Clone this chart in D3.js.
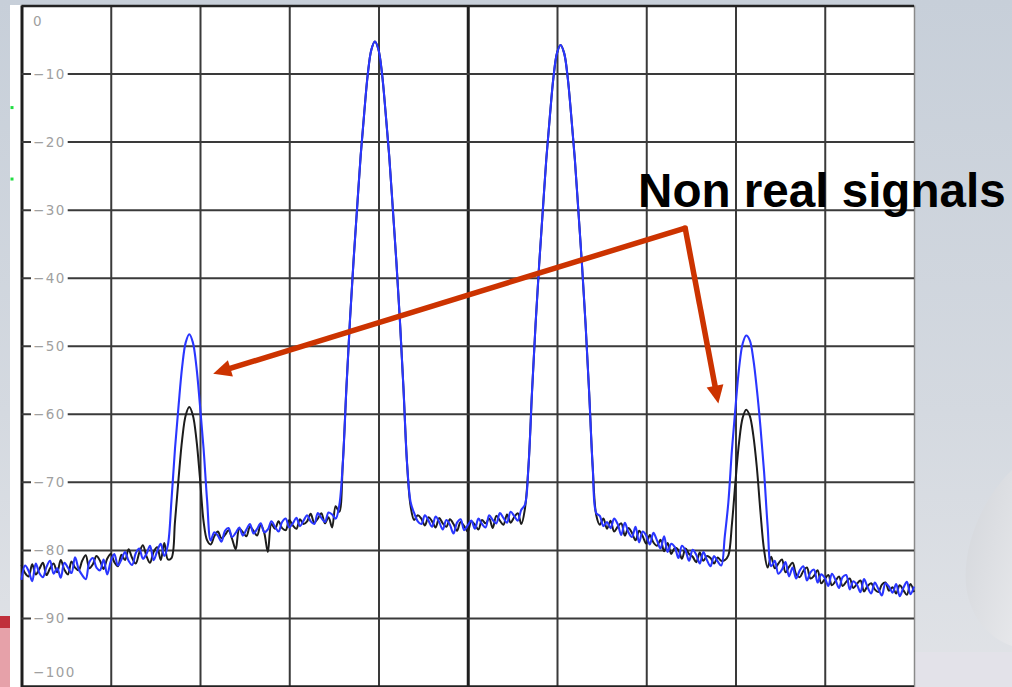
<!DOCTYPE html>
<html>
<head>
<meta charset="utf-8">
<script src="https://cdn.jsdelivr.net/npm/d3@7"></script>
<style>
  html, body { margin: 0; padding: 0; overflow: hidden; background: #cfd5dd; }
  svg { display: block; }
</style>
</head>
<body>
<svg id="chart" width="1012" height="687"></svg>
<script>
// Spectrum analyser sweep: two-tone test with third-order products.
// Frequency axis in sweep bins (250 bins across 10 divisions), level in dB.
const bins = d3.range(-125, 126);

// Trace with the higher drive (blue) — one value per bin, dB.
const blueTrace = [
  -84.4, -82.3, -83.1, -84.6, -82.0, -83.4, -84.0, -82.5, -81.6, -83.5,
  -82.7, -84.1, -81.9, -82.6, -83.4, -81.1, -82.8, -83.7, -84.3, -81.8,
  -81.2, -82.6, -83.0, -81.4, -83.6, -81.7, -80.6, -82.3, -81.4, -80.3,
  -81.6, -82.2, -80.5, -79.8, -81.3, -80.6, -79.4, -81.5, -80.2, -79.1,
  -80.9, -79.3, -72.8, -65.1, -58.8, -53.1, -49.5, -48.3, -49.5, -53.1,
  -58.8, -65.1, -72.8, -78.6, -77.4, -77.9, -78.8, -77.2, -76.8, -78.1,
  -77.5, -76.7, -77.9, -77.0, -76.2, -77.6, -76.9, -76.1, -77.4, -77.0,
  -75.8, -76.6, -77.3, -75.9, -75.4, -76.7, -76.1, -75.3, -76.5, -75.7,
  -74.9, -75.8, -76.2, -74.6, -75.3, -75.9, -74.5, -74.8, -75.4, -73.5,
  -67.3, -56.3, -46.3, -37.6, -29.8, -22.1, -15.8, -10.1, -6.5, -5.3,
  -6.5, -10.1, -15.8, -22.1, -29.8, -37.6, -46.3, -56.3, -67.3, -73.0,
  -74.6, -75.8, -76.2, -74.9, -75.7, -76.6, -75.1, -75.9, -77.0, -75.6,
  -76.3, -77.6, -76.0, -75.5, -77.1, -76.4, -75.7, -76.9, -75.4, -76.2,
  -76.7, -74.9, -75.6, -76.1, -74.6, -75.3, -76.0, -74.4, -75.0, -75.7,
  -74.1, -73.4, -67.8, -56.8, -46.8, -38.1, -30.3, -22.6, -16.3, -10.6,
  -7.0, -5.8, -7.0, -10.6, -16.3, -22.6, -30.3, -38.1, -46.8, -56.8,
  -67.8, -74.6, -75.0, -76.5, -75.9, -76.8, -75.4, -76.2, -77.8, -76.0,
  -77.4, -78.1, -76.6, -78.9, -77.3, -77.9, -79.2, -77.5, -78.6, -79.8,
  -78.0, -80.3, -79.1, -79.6, -81.2, -79.4, -80.1, -81.6, -80.0, -80.7,
  -82.0, -80.3, -81.5, -82.4, -80.9, -81.7, -82.3, -78.0, -73.0, -65.3,
  -59.0, -53.3, -49.7, -48.5, -49.2, -52.0, -56.5, -62.0, -68.5, -76.5,
  -82.4, -81.6, -83.5, -82.9, -81.8, -83.9, -82.6, -84.2, -83.0, -82.4,
  -84.5, -83.3, -82.9, -84.8, -83.6, -84.1, -85.3, -83.5, -84.4, -85.6,
  -84.0, -83.7, -85.8, -84.6, -85.1, -86.2, -84.3, -85.5, -86.4, -84.8,
  -85.7, -86.7, -84.9, -85.4, -86.3, -85.0, -86.8, -85.6, -84.7, -86.5,
  -85.4
];

// Trace with the lower drive (black) — one value per bin, dB.
const blackTrace = [
  -82.2, -83.4, -83.9, -82.1, -83.6, -82.8, -81.9, -83.7, -82.7, -82.0,
  -83.3, -81.5, -82.9, -83.6, -81.7, -82.6, -83.0, -81.6, -80.8, -82.7,
  -82.1, -80.9, -81.6, -82.8, -81.3, -80.6, -81.8, -82.4, -80.7, -81.5,
  -79.9, -81.2, -82.0, -80.4, -79.3, -80.9, -81.9, -80.3, -79.6, -81.5,
  -79.0, -81.4, -81.2, -75.8, -69.5, -63.8, -60.2, -59.0, -60.2, -63.8,
  -69.5, -75.8, -78.6, -79.2, -78.0, -77.3, -78.3, -77.8, -77.1, -78.4,
  -79.9, -76.9, -77.4, -78.0, -76.6, -77.2, -77.9, -76.3, -77.5, -80.3,
  -76.2, -76.9, -75.8, -76.8, -77.1, -75.6, -76.4, -76.9, -75.5, -76.2,
  -75.8, -74.7, -76.0, -75.4, -74.6, -76.1, -75.2, -76.7, -73.6, -74.4,
  -67.3, -56.3, -46.3, -37.6, -29.8, -22.1, -15.8, -10.1, -6.5, -5.3,
  -6.5, -10.1, -15.8, -22.1, -29.8, -37.6, -46.3, -56.3, -67.3, -73.6,
  -75.6, -74.9, -75.4, -76.4, -75.2, -75.8, -76.7, -75.3, -76.1, -76.6,
  -75.5, -76.2, -77.2, -75.9, -76.5, -77.3, -75.8, -76.3, -77.0, -75.6,
  -76.1, -75.4, -76.8, -75.0, -75.7, -76.3, -74.8, -76.0, -75.2, -74.6,
  -76.2, -74.0, -67.8, -56.8, -46.8, -38.1, -30.3, -22.6, -16.3, -10.6,
  -7.0, -5.8, -7.0, -10.6, -16.3, -22.6, -30.3, -38.1, -46.8, -56.8,
  -67.8, -74.9, -76.3, -75.4, -76.9, -75.7, -77.3, -76.6, -76.1, -77.9,
  -76.8, -77.5, -78.6, -77.2, -78.0, -79.1, -77.8, -78.9, -79.4, -78.5,
  -80.2, -79.0, -80.6, -79.7, -80.0, -81.3, -79.8, -80.6, -81.0, -81.8,
  -80.4, -81.6, -80.9, -81.2, -82.0, -81.1, -81.6, -81.5, -80.8, -76.2,
  -69.9, -64.2, -60.6, -59.4, -60.3, -63.2, -68.0, -74.5, -80.0, -82.6,
  -81.0, -82.7, -82.0, -81.4, -83.3, -82.5, -81.9, -83.6, -84.0, -83.1,
  -82.6, -84.2, -83.8, -83.0, -84.9, -84.3, -83.7, -85.2, -84.6, -83.9,
  -85.3, -84.7, -84.2, -85.6, -85.0, -84.5, -86.1, -85.3, -84.9, -85.8,
  -86.2, -85.1, -84.8, -86.0, -85.5, -86.4, -85.2, -85.9, -86.6, -85.0,
  -86.2
];

// Level grid (dB) and its labels.
const levelTicks = [0, -10, -20, -30, -40, -50, -60, -70, -80, -90, -100];
const levelLabels = ["0", "\u221210", "\u221220", "\u221230", "\u221240", "\u221250",
                     "\u221260", "\u221270", "\u221280", "\u221290", "\u2212100"];
// Frequency divisions (every 25 bins).
const freqDivisions = d3.range(-125, 126, 25);

// Callout: text anchor, elbow and the two arrow tips, in [bin, dB].
const calloutText = "Non real signals";
const calloutAnchor = [47.7, -29.6];
const calloutElbow = [60.9, -32.7];
const calloutTips = [[-71.3, -54.1], [70.2, -58.5]];

// Marker flags at the left edge (dB).
const markerLevels = [-15, -25.5];

const W = 1012, H = 687;
const plot = { left: 21.5, right: 914, top: 5.5, bottom: 686 };

const svg = d3.select("#chart");
const x = d3.scaleLinear().domain([-125, 125]).range([plot.left, plot.right]);
const y = d3.scaleLinear().domain([-100, 0]).range([plot.bottom, plot.top]);

// ---- slide backdrop ----
const defs = svg.append("defs");
const bg = defs.append("linearGradient").attr("id", "slideBg")
  .attr("x1", 0).attr("y1", 0).attr("x2", 0).attr("y2", 1);
bg.append("stop").attr("offset", "0%").attr("stop-color", "#c7cfd9");
bg.append("stop").attr("offset", "60%").attr("stop-color", "#d4d9e0");
bg.append("stop").attr("offset", "100%").attr("stop-color", "#e1e3e7");
const swoosh = defs.append("linearGradient").attr("id", "swoosh")
  .attr("x1", 0).attr("y1", 0).attr("x2", 1).attr("y2", 1);
swoosh.append("stop").attr("offset", "0%").attr("stop-color", "#d3d6db");
swoosh.append("stop").attr("offset", "100%").attr("stop-color", "#e6e7ea");

svg.append("rect").attr("width", W).attr("height", H).attr("fill", "url(#slideBg)");
svg.append("path")
  .attr("d", "M1012,470 C988,492 962,540 966,585 C970,622 994,640 1012,646 Z")
  .attr("fill", "url(#swoosh)");
svg.append("rect").attr("x", 914).attr("y", 652).attr("width", 98).attr("height", 35)
  .attr("fill", "#e3e2e9");
svg.append("rect").attr("x", 0).attr("y", 616).attr("width", 12).attr("height", 71)
  .attr("fill", "#e6a1a9");
svg.append("rect").attr("x", 0).attr("y", 616).attr("width", 12).attr("height", 12)
  .attr("fill", "#c0303b");

// ---- screen ----
svg.append("rect").attr("x", 10).attr("y", 5).attr("width", plot.right - 10).attr("height", H - 5)
  .attr("fill", "#ffffff");

svg.selectAll("rect.flag").data(markerLevels).join("rect")
  .attr("class", "flag")
  .attr("x", x(-125) - 11).attr("y", d => y(d) - 1.5)
  .attr("width", 3).attr("height", 3).attr("fill", "#22dd44");

// vertical divisions
const gridV = svg.append("g")
  .attr("transform", `translate(0,${H})`)
  .call(d3.axisBottom(x).tickValues(freqDivisions).tickSize(-(H - plot.top)).tickFormat(""));
gridV.select(".domain").remove();
gridV.selectAll(".tick line")
  .attr("stroke", d => (d === -125 || d === 0) ? "#1e1e1e" : (d === 125 ? "#8a8a8a" : "#3a3a3a"))
  .attr("stroke-width", d => (d === -125 || d === 0) ? 3 : (d === 125 ? 1.5 : 2));

// horizontal divisions
const gridH = svg.append("g")
  .attr("transform", `translate(${plot.left},0)`)
  .call(d3.axisLeft(y).tickValues(levelTicks).tickSize(-(plot.right - plot.left)).tickFormat(""));
gridH.select(".domain").remove();
gridH.selectAll(".tick line")
  .attr("stroke", d => (d === 0 || d === -100) ? "#222" : "#3a3a3a")
  .attr("stroke-width", d => (d === 0 || d === -100) ? 2.5 : 2);

// level labels on the grid, with a white gap behind them
const labelY = d => d === 0 ? y(d) + 15 : (d === -100 ? y(d) - 14 : y(d));
const labels = svg.append("g").selectAll("g").data(levelTicks).join("g");
labels.append("text")
  .attr("x", 33).attr("y", d => labelY(d))
  .attr("dominant-baseline", "central")
  .attr("font-family", "DejaVu Sans, sans-serif")
  .attr("font-size", 13.5)
  .attr("letter-spacing", 1.4)
  .attr("fill", "#a0a0a0")
  .text((d, i) => levelLabels[i]);
labels.each(function () {
  const g = d3.select(this);
  const b = g.select("text").node().getBBox();
  g.insert("rect", "text")
    .attr("x", b.x - 2).attr("y", b.y + 1).attr("width", b.width + 4).attr("height", b.height - 2)
    .attr("fill", "#ffffff");
});

// ---- traces ----
const line = d3.line()
  .x((d, i) => x(bins[i]))
  .y(d => y(d))
  .curve(d3.curveCatmullRom.alpha(0.5));

svg.append("path").datum(blackTrace)
  .attr("d", line).attr("fill", "none")
  .attr("stroke", "#1c1c1c").attr("stroke-width", 2).attr("stroke-linejoin", "round");
svg.append("path").datum(blueTrace)
  .attr("d", line).attr("fill", "none")
  .attr("stroke", "#2a36ff").attr("stroke-width", 2.1).attr("stroke-linejoin", "round");

// ---- callout ----
const red = "#cc3300";
const elbow = [x(calloutElbow[0]), y(calloutElbow[1])];
calloutTips.forEach(t => {
  const tip = [x(t[0]), y(t[1])];
  const dx = tip[0] - elbow[0], dy = tip[1] - elbow[1];
  const len = Math.hypot(dx, dy);
  const ux = dx / len, uy = dy / len;
  const headLen = 18, headHalf = 8.5;
  const base = [tip[0] - ux * headLen, tip[1] - uy * headLen];
  svg.append("line")
    .attr("x1", elbow[0]).attr("y1", elbow[1])
    .attr("x2", base[0] + ux * 2).attr("y2", base[1] + uy * 2)
    .attr("stroke", red).attr("stroke-width", 5.5).attr("stroke-linecap", "butt");
  svg.append("path")
    .attr("d", `M${tip[0]},${tip[1]} L${base[0] - uy * headHalf},${base[1] + ux * headHalf} L${base[0] + uy * headHalf},${base[1] - ux * headHalf} Z`)
    .attr("fill", red);
});
svg.append("circle").attr("cx", elbow[0]).attr("cy", elbow[1]).attr("r", 2.75).attr("fill", red);

svg.append("text")
  .attr("x", x(calloutAnchor[0])).attr("y", y(calloutAnchor[1]))
  .attr("font-family", "Liberation Sans, Arial, sans-serif")
  .attr("font-weight", "bold")
  .attr("font-size", 47.6)
  .attr("fill", "#000")
  .text(calloutText);
</script>
</body>
</html>
